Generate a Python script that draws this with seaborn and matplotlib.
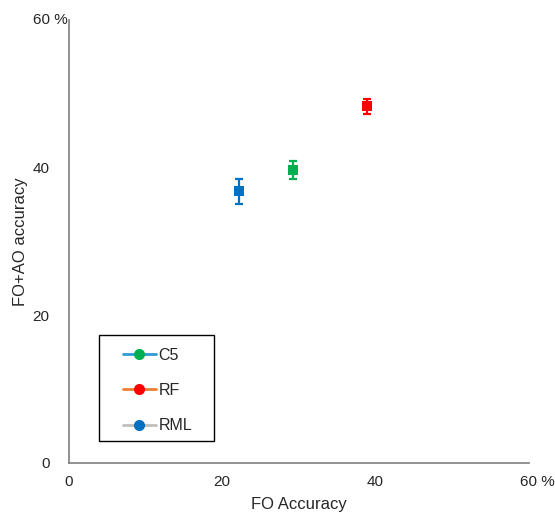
import seaborn as sns
import matplotlib.pyplot as plt
import pandas as pd
from matplotlib.lines import Line2D
from matplotlib.patches import Rectangle

models = ["C5", "RF", "RML"]
fo_accuracy = [29.2, 38.9, 22.2]
fo_ao_accuracy = [39.7, 48.3, 36.8]
fo_ao_err = [1.2, 1.0, 1.7]
marker_colors = ["#00B050", "#FF0000", "#0070C0"]
legend_line_colors = ["#2E9BD6", "#ED7D31", "#BFBFBF"]
tick_values = [0, 20, 40, 60]
tick_labels = ["0", "20", "40", ""]
last_tick_label = "60 %"

sns.set_style("white")
plt.rcParams["font.family"] = ["Liberation Sans", "DejaVu Sans"]

df = pd.DataFrame({"model": models, "fo": fo_accuracy, "foao": fo_ao_accuracy, "err": fo_ao_err})

fig = plt.figure(figsize=(5.55, 5.12), dpi=100)
ax = fig.add_axes([0.124, 0.096, 0.829, 0.865])

for (_, row), c in zip(df.iterrows(), marker_colors):
    ax.errorbar(row["fo"], row["foao"], yerr=row["err"], fmt="none", ecolor=c,
                elinewidth=1.6, capsize=2.8, capthick=1.6, zorder=2)
sns.scatterplot(data=df, x="fo", y="foao", hue="model", palette=marker_colors,
                marker="s", s=55, edgecolor="none", legend=False, ax=ax, zorder=3)

ax.set_xlim(0, 60)
ax.set_ylim(0, 60)
ax.set_xticks(tick_values)
ax.set_yticks(tick_values)
ax.set_xticklabels(tick_labels, fontsize=11)
ax.set_yticklabels(tick_labels, fontsize=11)
ax.tick_params(axis="x", length=0, pad=9)
ax.tick_params(axis="y", length=0, pad=14)
# the "60 %" labels: number aligned like the others, percent sign hanging out
ax.annotate(last_tick_label, xy=(0, tick_values[-1]), xycoords="data",
            xytext=(-36, 0), textcoords="offset pixels", ha="left", va="center",
            fontsize=11, annotation_clip=False)
ax.annotate(last_tick_label, xy=(tick_values[-1], 0), xycoords="data",
            xytext=(-9, -12), textcoords="offset pixels", ha="left", va="top",
            fontsize=11, annotation_clip=False)

ax.set_xlabel("FO Accuracy", fontsize=12)
ax.set_ylabel("FO+AO accuracy", fontsize=12)
ax.xaxis.set_label_coords(0.5, -0.076)
ax.yaxis.set_label_coords(-0.089, 0.5)
sns.despine(ax=ax)
for s in ["left", "bottom"]:
    ax.spines[s].set_color("#7F7F7F")
    ax.spines[s].set_linewidth(1.2)

ax.add_patch(Rectangle((0.065, 0.0497), 0.25, 0.239, transform=ax.transAxes,
                       facecolor="white", edgecolor="black", linewidth=1.0,
                       zorder=4, clip_on=False))
handles = [Line2D([0], [0], color=lc, lw=2, marker="o", markersize=7,
                  markerfacecolor=mc, markeredgecolor=mc, label=m)
           for m, lc, mc in zip(models, legend_line_colors, marker_colors)]
leg = ax.legend(handles=handles, loc="upper left", bbox_to_anchor=(0.117, 0.26),
                borderaxespad=0, borderpad=0, fontsize=11.5, frameon=False,
                handlelength=2.1, labelspacing=1.27, handletextpad=0.15)
leg.set_zorder(5)

fig.savefig("out.png", dpi=100)
